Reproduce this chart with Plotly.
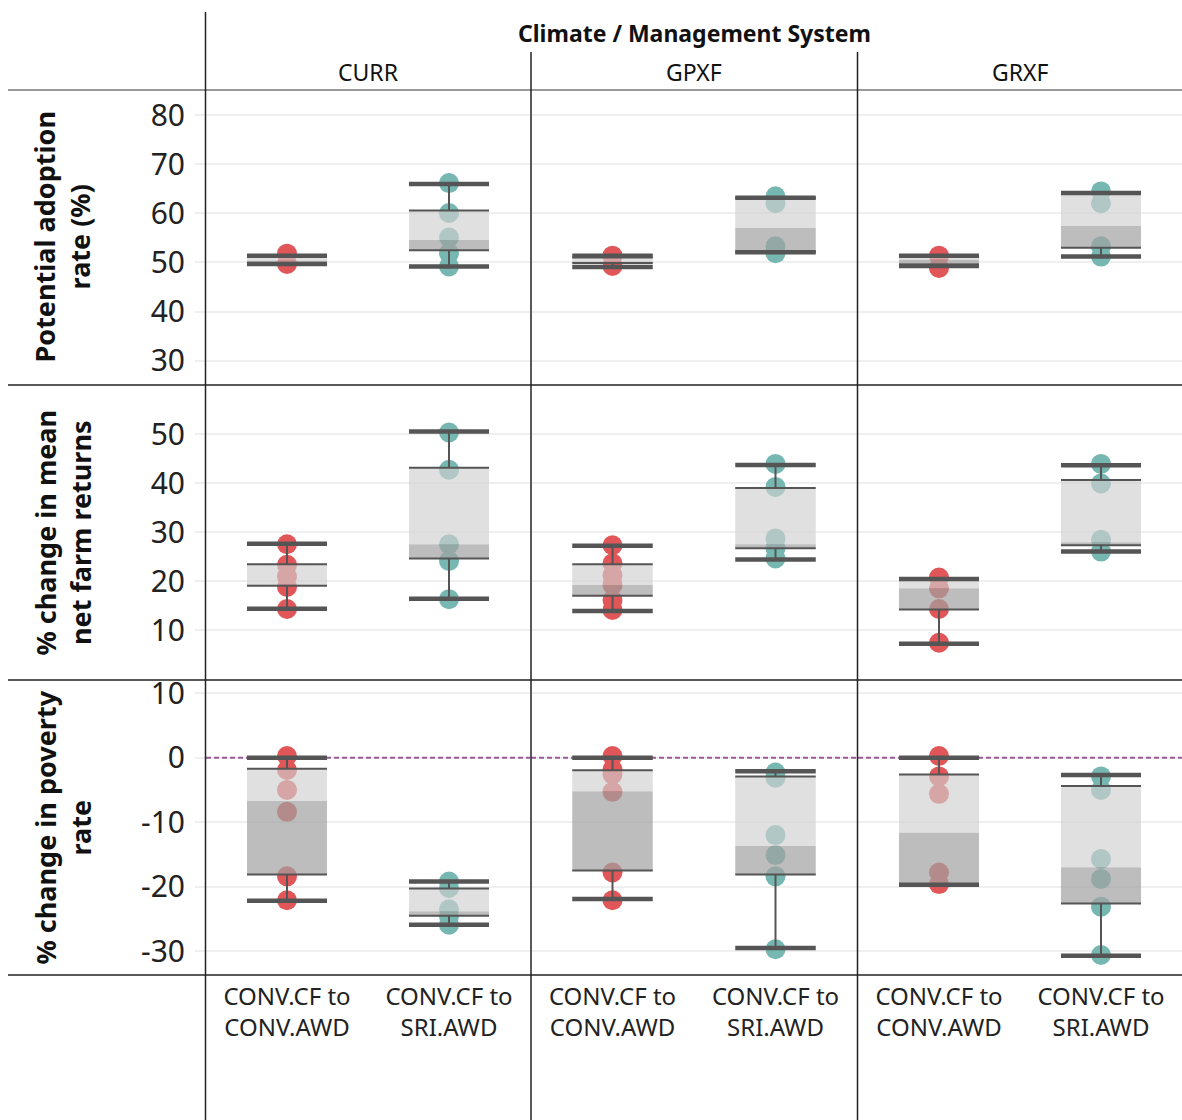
import plotly.graph_objects as go
from plotly.subplots import make_subplots

# ---------------- data ----------------
climates = ["CURR", "GPXF", "GRXF"]
systems = ["CONV.CF to<br>CONV.AWD", "CONV.CF to<br>SRI.AWD"]
row_titles = ["Potential adoption<br>rate (%)",
              "% change in mean<br>net farm returns",
              "% change in poverty<br>rate"]
header_title = "Climate / Management System"

# Potential adoption rate (%) -- points per climate
adopt_awd_points = [[51.8, 49.7], [51.4, 49.3], [51.4, 48.9]]
adopt_sri_points = [[66.2, 60.1, 55.1, 51.9, 49.2],
                    [63.5, 62.1, 53.3, 51.9],
                    [64.5, 62.1, 53.3, 51.2]]
adopt_awd_lo = [49.7, 49.1, 49.3]
adopt_awd_q1 = [49.9, 49.9, 49.6]
adopt_awd_med = [50.4, 50.2, 50.6]
adopt_awd_q3 = [51.2, 51.0, 51.1]
adopt_awd_hi = [51.4, 51.4, 51.4]
adopt_sri_lo = [49.2, 52.1, 51.2]
adopt_sri_q1 = [52.5, 52.1, 53.0]
adopt_sri_med = [54.6, 57.1, 57.5]
adopt_sri_q3 = [60.6, 63.2, 64.2]
adopt_sri_hi = [66.0, 63.2, 64.2]

# % change in mean net farm returns
returns_awd_points = [[27.5, 23.3, 20.9, 18.8, 14.3],
                      [27.3, 23.6, 21.2, 19.2, 16.1, 14.1],
                      [20.7, 18.5, 14.3, 7.4]]
returns_sri_points = [[50.3, 42.7, 27.5, 24.1, 16.3],
                      [43.9, 39.2, 28.7, 26.7, 24.6],
                      [43.9, 39.9, 28.4, 26.0]]
returns_awd_lo = [14.35, 13.9, 7.2]
returns_awd_q1 = [19.05, 17.0, 14.2]
returns_awd_med = [19.3, 19.2, 18.5]
returns_awd_q3 = [23.4, 23.4, 20.4]
returns_awd_hi = [27.6, 27.2, 20.4]
returns_sri_lo = [16.4, 24.4, 26.0]
returns_sri_q1 = [24.6, 26.7, 27.3]
returns_sri_med = [27.5, 27.5, 27.9]
returns_sri_q3 = [43.1, 39.0, 40.6]
returns_sri_hi = [50.5, 43.7, 43.6]

# % change in poverty rate
poverty_awd_points = [[0.26, -1.9, -5.0, -8.4, -18.4, -22.1],
                      [0.26, -1.8, -2.6, -5.3, -17.8, -22.1],
                      [0.26, -2.9, -5.6, -17.8, -19.6]]
poverty_sri_points = [[-19.2, -20.2, -23.5, -24.6, -25.9],
                      [-2.3, -3.1, -12.0, -15.1, -18.4, -29.7],
                      [-2.9, -5.0, -15.7, -18.8, -23.1, -30.6]]
poverty_awd_lo = [-22.2, -21.9, -19.7]
poverty_awd_q1 = [-18.1, -17.5, -19.7]
poverty_awd_med = [-6.7, -5.2, -11.6]
poverty_awd_q3 = [-1.7, -1.96, -2.6]
poverty_awd_hi = [0.0, 0.0, 0.0]
poverty_sri_lo = [-25.9, -29.5, -30.7]
poverty_sri_q1 = [-24.5, -18.1, -22.6]
poverty_sri_med = [-23.8, -13.7, -17.0]
poverty_sri_q3 = [-20.3, -2.9, -4.4]
poverty_sri_hi = [-19.2, -2.1, -2.7]

y_ranges = [[25.0, 85.2], [-0.2, 60.0], [-33.7, 12.05]]
y_ticks = [[30, 40, 50, 60, 70, 80], [10, 20, 30, 40, 50], [-30, -20, -10, 0, 10]]
y_ticktext = [["30", "40", "50", "60", "70", "80"],
              ["10", "20", "30", "40", "50"],
              ["-30", "-20", "-10", "0", "10"]]
poverty_reference = 0

metrics = [
    ((adopt_awd_points, adopt_awd_lo, adopt_awd_q1, adopt_awd_med, adopt_awd_q3, adopt_awd_hi),
     (adopt_sri_points, adopt_sri_lo, adopt_sri_q1, adopt_sri_med, adopt_sri_q3, adopt_sri_hi)),
    ((returns_awd_points, returns_awd_lo, returns_awd_q1, returns_awd_med, returns_awd_q3, returns_awd_hi),
     (returns_sri_points, returns_sri_lo, returns_sri_q1, returns_sri_med, returns_sri_q3, returns_sri_hi)),
    ((poverty_awd_points, poverty_awd_lo, poverty_awd_q1, poverty_awd_med, poverty_awd_q3, poverty_awd_hi),
     (poverty_sri_points, poverty_sri_lo, poverty_sri_q1, poverty_sri_med, poverty_sri_q3, poverty_sri_hi)),
]

# ---------------- style ----------------
W, H = 1182, 1120
FONT = "Noto Sans"
point_colors = ["#e15759", "#76b7b2"]
light_fill = "rgba(207,207,207,0.65)"
dark_fill = "rgba(161,161,161,0.70)"
line_col = "#555555"
grid_col = "#efefef"
half_w = 0.247

col_px = [(206, 530), (531, 857), (858, 1182)]
row_px = [(90, 385), (385, 680), (680, 975)]

fig = make_subplots(rows=3, cols=3, horizontal_spacing=0, vertical_spacing=0)

for r in range(3):
    for c in range(3):
        if r == 2:
            fig.add_trace(go.Scatter(
                x=[-0.5, 1.5], y=[poverty_reference, poverty_reference], mode="lines",
                line=dict(color="#9c5a97", width=2, dash="5px,3px"),
                hoverinfo="skip", showlegend=False), row=r + 1, col=c + 1)
        for s in range(2):
            pts, lo, q1, med, q3, hi = metrics[r][s]
            x0, x1 = s - half_w, s + half_w
            # points
            fig.add_trace(go.Scatter(
                x=[s] * len(pts[c]), y=pts[c], mode="markers",
                marker=dict(size=20, color=point_colors[s], line=dict(width=0)),
                hoverinfo="y", showlegend=False), row=r + 1, col=c + 1)
            # whiskers
            fig.add_trace(go.Scatter(
                x=[s, s, None, s, s], y=[lo[c], q1[c], None, q3[c], hi[c]],
                mode="lines", line=dict(color=line_col, width=2),
                hoverinfo="skip", showlegend=False), row=r + 1, col=c + 1)
            # lower band (q1 -> median)
            fig.add_trace(go.Scatter(
                x=[x0, x1, x1, x0, x0], y=[q1[c], q1[c], med[c], med[c], q1[c]],
                mode="lines", fill="toself", fillcolor=dark_fill,
                line=dict(width=0), hoverinfo="skip", showlegend=False), row=r + 1, col=c + 1)
            # upper band (median -> q3)
            fig.add_trace(go.Scatter(
                x=[x0, x1, x1, x0, x0], y=[med[c], med[c], q3[c], q3[c], med[c]],
                mode="lines", fill="toself", fillcolor=light_fill,
                line=dict(width=0), hoverinfo="skip", showlegend=False), row=r + 1, col=c + 1)
            # box edges
            fig.add_trace(go.Scatter(
                x=[x0, x1, None, x0, x1], y=[q1[c], q1[c], None, q3[c], q3[c]],
                mode="lines", line=dict(color=line_col, width=2),
                hoverinfo="skip", showlegend=False), row=r + 1, col=c + 1)
            # whisker caps
            fig.add_trace(go.Scatter(
                x=[x0, x1, None, x0, x1], y=[lo[c], lo[c], None, hi[c], hi[c]],
                mode="lines", line=dict(color=line_col, width=4.5),
                hoverinfo="skip", showlegend=False), row=r + 1, col=c + 1)

        fig.update_xaxes(domain=[col_px[c][0] / W, col_px[c][1] / W], range=[-0.5, 1.5],
                         showgrid=False, zeroline=False, showline=False, automargin=False,
                         tickvals=[0, 1], ticktext=systems,
                         showticklabels=(r == 2), ticks="",
                         ticklabelstandoff=5,
                         tickfont=dict(family=FONT, size=24, color="#222"),
                         row=r + 1, col=c + 1)
        fig.update_yaxes(domain=[1 - row_px[r][1] / H, 1 - row_px[r][0] / H],
                         range=y_ranges[r], tickvals=y_ticks[r], ticktext=y_ticktext[r],
                         showgrid=True, gridcolor=grid_col, gridwidth=1.5,
                         zeroline=False, showline=False, automargin=False,
                         ticks=("outside" if c == 0 else ""), ticklen=10,
                         tickcolor=grid_col, tickwidth=1.5,
                         showticklabels=(c == 0),
                         ticklabelstandoff=4,
                         tickfont=dict(family=FONT, size=30, color="#222"),
                         row=r + 1, col=c + 1)

# frame lines
def hline(py, px0, px1, color="#222", width=1.5):
    fig.add_shape(type="line", xref="paper", yref="paper",
                  x0=px0 / W, x1=px1 / W, y0=1 - py / H, y1=1 - py / H,
                  line=dict(color=color, width=width))

def vline(px, py0, py1, color="#222", width=1.5):
    fig.add_shape(type="line", xref="paper", yref="paper",
                  x0=px / W, x1=px / W, y0=1 - py0 / H, y1=1 - py1 / H,
                  line=dict(color=color, width=width))

hline(90, 8, W, color="#777")
hline(385, 8, W)
hline(680, 8, W)
hline(975, 8, W)
vline(205.5, 12, H)
vline(531, 52, H)
vline(857.5, 52, H)

# header annotations
fig.add_annotation(text=f"<b>{header_title}</b>", xref="paper", yref="paper",
                   x=694 / W, y=1 - 33 / H, xanchor="center", yanchor="middle",
                   showarrow=False, font=dict(family=FONT, size=23, color="#111"))
for c, name in enumerate(climates):
    fig.add_annotation(text=name, xref="paper", yref="paper",
                       x=(col_px[c][0] + col_px[c][1]) / 2 / W, y=1 - 72 / H,
                       xanchor="center", yanchor="middle",
                       showarrow=False, font=dict(family=FONT, size=23, color="#111"))
for r, t in enumerate(row_titles):
    fig.add_annotation(text=f"<b>{t}</b>", xref="paper", yref="paper",
                       x=62 / W, y=1 - (row_px[r][0] + row_px[r][1]) / 2 / H,
                       xanchor="center", yanchor="middle",
                       textangle=-90, showarrow=False,
                       font=dict(family=FONT, size=27, color="#111"))

fig.update_layout(width=W, height=H, margin=dict(l=0, r=0, t=0, b=0, pad=0),
                  paper_bgcolor="white", plot_bgcolor="white",
                  showlegend=False, font=dict(family=FONT))

fig.write_html("out.html")
